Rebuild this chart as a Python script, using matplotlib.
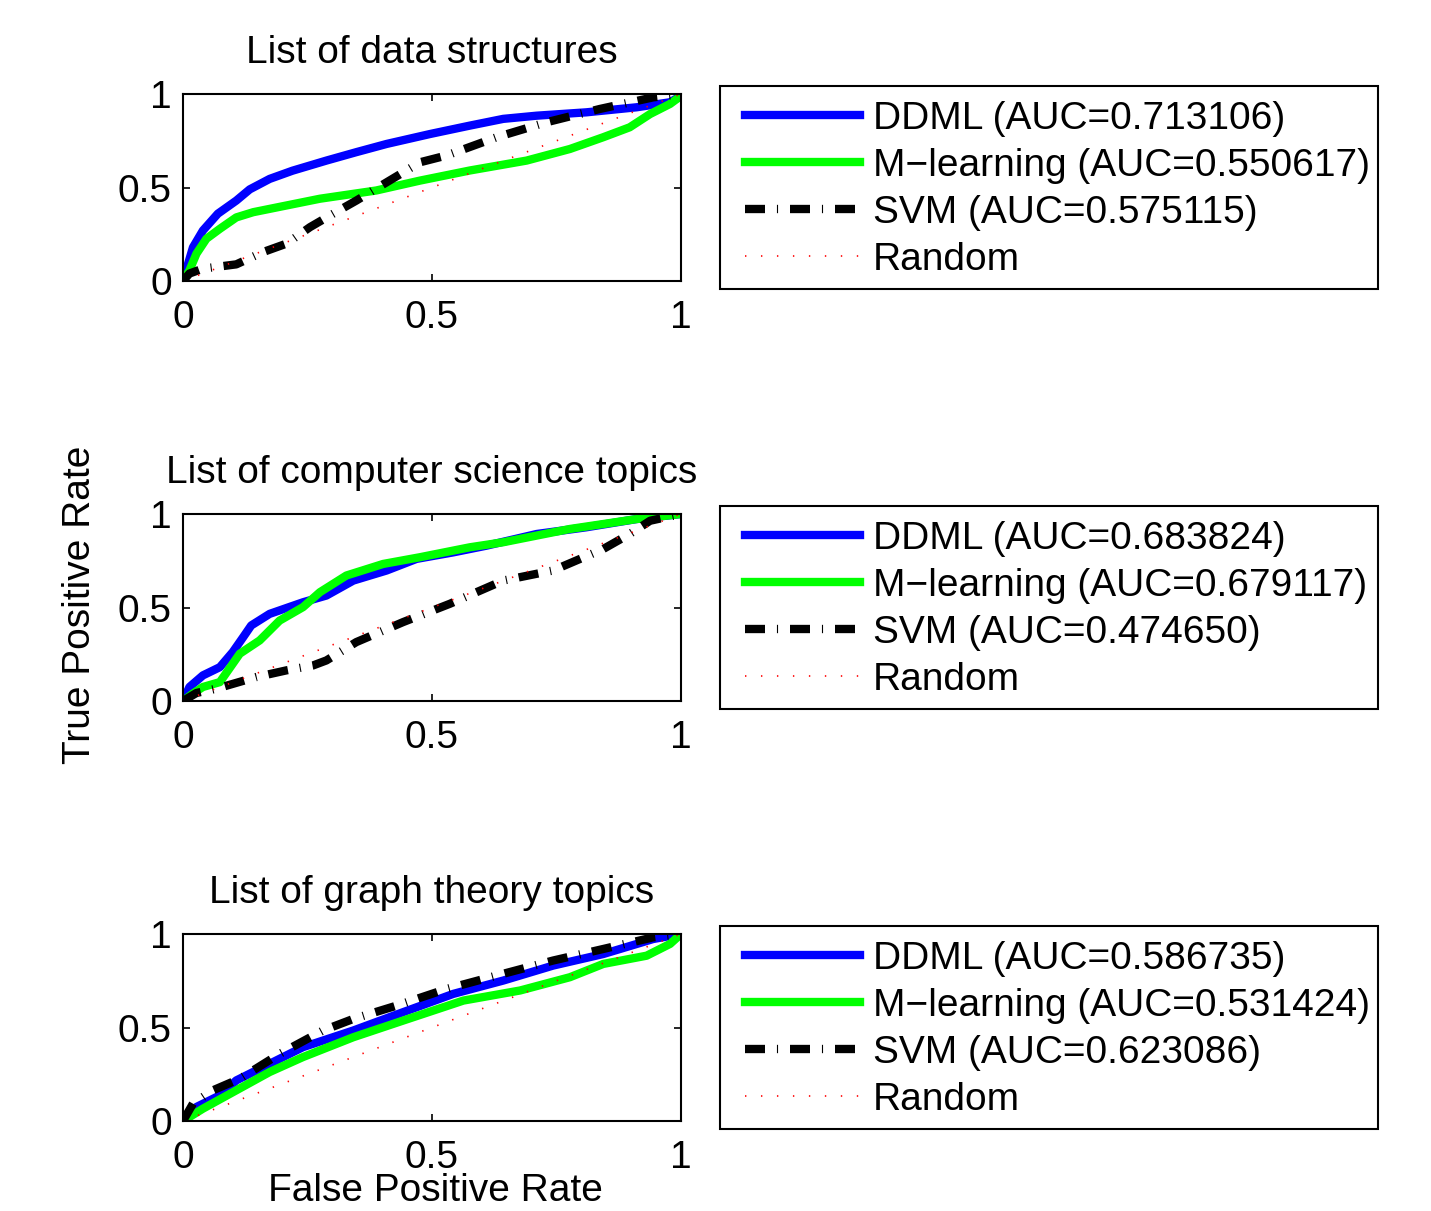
import matplotlib
matplotlib.use('Agg')
import matplotlib.pyplot as plt
from matplotlib.patches import Rectangle
from matplotlib.lines import Line2D

plt.rcParams['font.family'] = ['Liberation Sans', 'DejaVu Sans']
plt.rcParams['lines.scale_dashes'] = False

titles = ['List of data structures', 'List of computer science topics', 'List of graph theory topics']
auc_ddml = ['0.713106', '0.683824', '0.586735']
auc_mlearn = ['0.550617', '0.679117', '0.531424']
auc_svm = ['0.575115', '0.474650', '0.623086']

# ROC curves (fpr, tpr)
ddml_fpr = [
    [0, 0.02, 0.04, 0.07, 0.107, 0.134, 0.174, 0.22, 0.288, 0.348, 0.409, 0.496, 0.576, 0.643, 0.71, 0.81, 0.911, 0.978, 1],
    [0, 0.013, 0.04, 0.074, 0.1, 0.121, 0.137, 0.174, 0.241, 0.288, 0.342, 0.409, 0.469, 0.543, 0.61, 0.71, 0.81, 0.911, 1],
    [0, 0.027, 0.074, 0.107, 0.174, 0.241, 0.342, 0.442, 0.543, 0.643, 0.743, 0.844, 0.944, 1],
]
ddml_tpr = [
    [0, 0.18, 0.27, 0.36, 0.43, 0.49, 0.546, 0.59, 0.644, 0.689, 0.733, 0.786, 0.831, 0.867, 0.884, 0.902, 0.929, 0.956, 0.99],
    [0, 0.075, 0.137, 0.181, 0.262, 0.342, 0.404, 0.466, 0.528, 0.564, 0.644, 0.698, 0.76, 0.795, 0.831, 0.893, 0.929, 0.973, 1],
    [0, 0.075, 0.137, 0.217, 0.306, 0.395, 0.484, 0.582, 0.68, 0.751, 0.831, 0.893, 0.973, 1],
]
ml_fpr = [
    [0, 0.013, 0.027, 0.047, 0.074, 0.107, 0.141, 0.208, 0.275, 0.388, 0.476, 0.576, 0.69, 0.777, 0.844, 0.897, 0.938, 0.978, 1],
    [0, 0.02, 0.04, 0.074, 0.114, 0.154, 0.194, 0.241, 0.275, 0.328, 0.402, 0.476, 0.576, 0.643, 0.777, 0.911, 1],
    [0, 0.04, 0.107, 0.174, 0.241, 0.342, 0.442, 0.563, 0.677, 0.777, 0.844, 0.931, 0.978, 1],
]
ml_tpr = [
    [0, 0.057, 0.146, 0.226, 0.279, 0.34, 0.368, 0.404, 0.44, 0.484, 0.537, 0.591, 0.644, 0.706, 0.769, 0.822, 0.893, 0.947, 0.99],
    [0, 0.04, 0.075, 0.101, 0.253, 0.324, 0.43, 0.502, 0.582, 0.671, 0.733, 0.769, 0.822, 0.849, 0.92, 0.973, 1],
    [0, 0.066, 0.164, 0.262, 0.342, 0.448, 0.537, 0.644, 0.698, 0.769, 0.84, 0.884, 0.947, 1],
]
svm_fpr = [
    [0, 0.013, 0.04, 0.107, 0.161, 0.208, 0.255, 0.295, 0.348, 0.409, 0.476, 0.529, 0.63, 0.73, 0.837, 0.944, 1],
    [0, 0.027, 0.067, 0.147, 0.208, 0.261, 0.288, 0.348, 0.442, 0.536, 0.643, 0.743, 0.844, 0.897, 0.938, 1],
    [0, 0.02, 0.06, 0.114, 0.194, 0.281, 0.342, 0.429, 0.529, 0.63, 0.743, 0.844, 0.944, 1],
]
svm_tpr = [
    [0, 0.04, 0.066, 0.089, 0.155, 0.2, 0.288, 0.35, 0.43, 0.528, 0.635, 0.671, 0.769, 0.849, 0.92, 0.982, 1.0],
    [0, 0.043, 0.066, 0.128, 0.164, 0.19, 0.217, 0.315, 0.422, 0.52, 0.644, 0.698, 0.813, 0.893, 0.964, 1],
    [0, 0.093, 0.164, 0.226, 0.359, 0.484, 0.546, 0.617, 0.706, 0.778, 0.858, 0.92, 0.982, 1],
]
rand_x = [0, 1]
rand_y = [0, 1]

W, H = 1431, 1211
fig = plt.figure(figsize=(W / 100, H / 100), dpi=100)

ax_tops = [94, 514, 934]
leg_tops = [86, 506, 926]
fs = 28
lw = 6
dashdot = (0, (14.4, 8.6, 0.8, 8.6))
dotted = (0, (1.0, 10.5))

for i in range(3):
    top = ax_tops[i]
    ax = fig.add_axes([183 / W, 1 - (top + 187) / H, 498 / W, 187 / H])
    ax.plot(ddml_fpr[i], ddml_tpr[i], color='#0000ff', lw=lw, solid_joinstyle='round')
    ax.plot(ml_fpr[i], ml_tpr[i], color='#00ff00', lw=lw, solid_joinstyle='round')
    ax.plot(svm_fpr[i], svm_tpr[i], color='black', lw=lw, linestyle=dashdot)
    ax.plot(rand_x, rand_y, color='red', lw=1.2, linestyle=dotted)
    ax.set_xlim(0, 1)
    ax.set_ylim(0, 1)
    ax.set_xticks([0, 0.5, 1])
    ax.set_yticks([0, 0.5, 1])
    ax.set_xticklabels(['0', '0.5', '1'])
    ax.set_yticklabels(['0', '0.5', '1'])
    ax.tick_params(direction='in', top=True, right=True, length=5, width=1.2,
                   labelsize=fs)
    ax.tick_params(axis='x', pad=14)
    ax.tick_params(axis='y', pad=8)
    for s in ax.spines.values():
        s.set_linewidth(1.5)
    ax.set_title(titles[i], fontsize=fs, pad=22)

    # legend box
    lt = leg_tops[i]
    fig.patches.append(Rectangle((720 / W, 1 - (lt + 203) / H), 658 / W, 203 / H,
                                 transform=fig.transFigure, fill=False,
                                 edgecolor='black', lw=1.5, zorder=5))
    handles = [
        Line2D([], [], color='#0000ff', lw=lw),
        Line2D([], [], color='#00ff00', lw=lw),
        Line2D([], [], color='black', lw=lw, linestyle=dashdot),
        Line2D([], [], color='red', lw=1.2, linestyle=dotted),
    ]
    labels = ['DDML (AUC=%s)' % auc_ddml[i], 'M\u2212learning (AUC=%s)' % auc_mlearn[i],
              'SVM (AUC=%s)' % auc_svm[i], 'Random']
    fig.legend(handles, labels, loc='upper left',
               bbox_to_anchor=(745 / W, 1 - (lt + 15) / H), bbox_transform=fig.transFigure,
               frameon=False, fontsize=fs, handlelength=2.95, handletextpad=0.33,
               labelspacing=0.28, borderpad=0.0, borderaxespad=0.0)

fig.text(80 / W, 1 - 605 / H, 'True Positive Rate', rotation=90, fontsize=fs,
         ha='center', va='center')
fig.text(435 / W, 1 - 1209 / H, 'False Positive Rate', fontsize=fs,
         ha='center', va='bottom')

fig.savefig('out.png', dpi=100)
